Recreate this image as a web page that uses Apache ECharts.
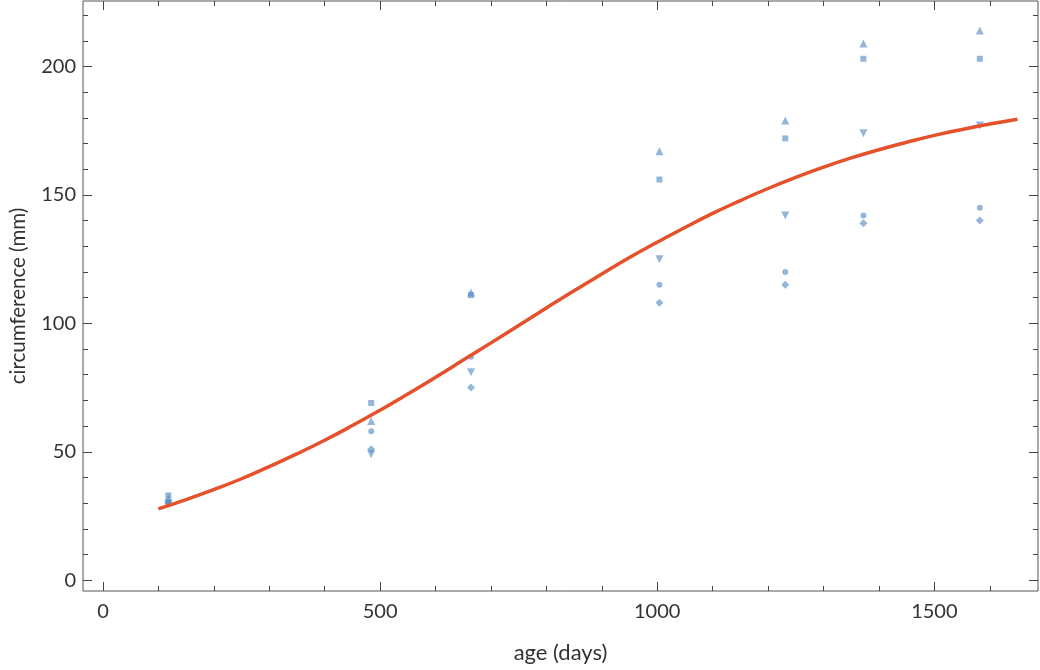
<!DOCTYPE html>
<html>
<head>
<meta charset="utf-8">
<script src="https://cdn.jsdelivr.net/npm/echarts@6/dist/echarts.min.js"></script>
<style>html,body{margin:0;padding:0;background:#fff}#c{width:1040px;height:670px}</style>
</head>
<body>
<div id="c"></div>
<script>
var ages = [118, 484, 664, 1004, 1231, 1372, 1582];
var tree1 = [30, 58, 87, 115, 120, 142, 145];
var tree2 = [33, 69, 111, 156, 172, 203, 203];
var tree3 = [30, 51, 75, 108, 115, 139, 140];
var tree4 = [32, 62, 112, 167, 179, 209, 214];
var tree5 = [30, 49, 81, 125, 142, 174, 177];
var curveX = [100,150,200,250,300,350,400,450,500,550,600,650,700,750,800,850,900,950,1000,1050,1100,1150,1200,1250,1300,1350,1400,1450,1500,1550,1600,1650];
var curveY = [27.8,31.4,35.3,39.5,44.2,49.2,54.5,60.2,66.2,72.5,79.0,85.7,92.4,99.2,106.0,112.7,119.2,125.6,131.6,137.3,142.8,147.8,152.5,156.8,160.8,164.4,167.6,170.5,173.2,175.5,177.6,179.5];
var xMajor = [0, 500, 1000, 1500];
var xMinor = [100,200,300,400,600,700,800,900,1100,1200,1300,1400,1600];
var yMajor = [0, 50, 100, 150, 200];
var yMinor = [10,20,30,40,60,70,80,90,110,120,130,140,160,170,180,190,210,220];

var FONT = 'Lato';
var XMIN = -36, XMAX = 1687, YMIN = -4.2, YMAX = 225.5;
var tickColor = '#444';

function zip(xs, ys){ return xs.map(function(x,i){ return [x, ys[i]]; }); }
function plain(v){ return String(v); }

function mkX(pos, vals, len, showLabel, extra){
  var a = {
    type:'value', position:pos, min:XMIN, max:XMAX,
    axisLine:{show:false, onZero:false}, splitLine:{show:false},
    axisTick:{show:true, inside:true, length:len, customValues:vals, lineStyle:{color:tickColor, width:1}},
    axisLabel:{show:showLabel, customValues: showLabel ? vals : undefined, formatter:plain, margin:11, fontSize:20, color:'#333', fontFamily:FONT},
    axisPointer:{show:false}
  };
  if (extra) for (var k in extra) a[k] = extra[k];
  return a;
}
function mkY(pos, vals, len, showLabel, extra){
  var a = {
    type:'value', position:pos, min:YMIN, max:YMAX,
    axisLine:{show:false, onZero:false}, splitLine:{show:false},
    axisTick:{show:true, inside:true, length:len, customValues:vals, lineStyle:{color:tickColor, width:1}},
    axisLabel:{show:showLabel, customValues: showLabel ? vals : undefined, formatter:plain, margin:7, fontSize:20, color:'#333', fontFamily:FONT},
    axisPointer:{show:false}
  };
  if (extra) for (var k in extra) a[k] = extra[k];
  return a;
}

var markColor = 'rgba(84,138,196,0.78)';
function sc(data, symbol, size, rot){
  return {type:'scatter', xAxisIndex:0, yAxisIndex:0, data:data, symbol:symbol, symbolSize:size, symbolRotate:rot||0,
    itemStyle:{color:markColor}, z:3, silent:true};
}

var chart = echarts.init(document.getElementById('c'), null, {renderer:'canvas'});
chart.setOption({
  animation:false,
  backgroundColor:'#fff',
  grid:{left:80, right:2, top:1, bottom:79, show:true, borderColor:'#555', borderWidth:1, backgroundColor:'transparent'},
  xAxis:[
    mkX('bottom', xMajor, 9, true, {name:'age (days)', nameLocation:'middle', nameGap:51, nameTextStyle:{fontSize:22, color:'#333', fontFamily:FONT}}),
    mkX('bottom', xMinor, 5, false),
    mkX('top', xMajor, 9, false),
    mkX('top', xMinor, 5, false)
  ],
  yAxis:[
    mkY('left', yMajor, 9, true, {name:'circumference (mm)', nameLocation:'middle', nameGap:54, nameTextStyle:{fontSize:20.5, color:'#333', fontFamily:FONT}}),
    mkY('left', yMinor, 5, false),
    mkY('right', yMajor, 9, false),
    mkY('right', yMinor, 5, false)
  ],
  series:[
    sc(zip(ages, tree1), 'circle', 6),
    sc(zip(ages, tree2), 'rect', 6),
    sc(zip(ages, tree3), 'diamond', 8),
    sc(zip(ages, tree4), 'triangle', 8),
    sc(zip(ages, tree5), 'triangle', 8, 180),
    {type:'line', xAxisIndex:0, yAxisIndex:0, data:zip(curveX, curveY), smooth:true, showSymbol:false, symbol:'none',
      lineStyle:{color:'#e5512b', width:3.5}, z:4, silent:true}
  ]
});
</script>
</body>
</html>
